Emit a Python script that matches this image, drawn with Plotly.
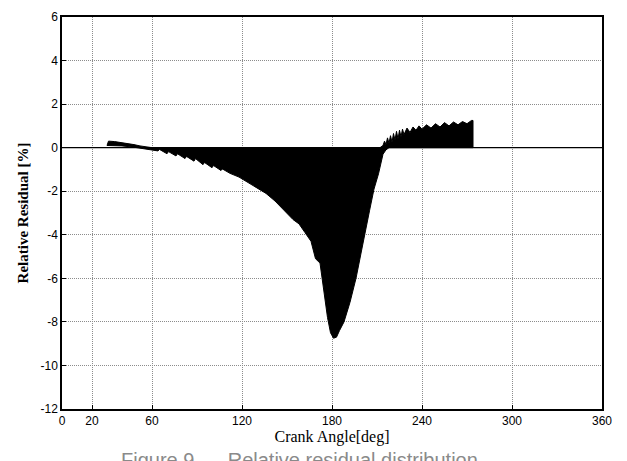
import plotly.graph_objects as go

# Upper envelope of the dense residual band (deg, %)
upper_deg = [30, 31, 35, 38, 42, 45, 48, 52, 56, 60,
             212, 214, 215, 216, 217, 218, 219, 220, 221, 222, 223, 224, 225, 226,
             227, 228, 230, 232, 234, 236, 238, 240, 243, 246, 249, 252, 255, 258,
             261, 264, 267, 270, 273, 274]
upper_val = [0.1, 0.3, 0.28, 0.25, 0.22, 0.18, 0.14, 0.08, 0.03, 0.0,
             0.0, 0.1, 0.3, 0.15, 0.45, 0.2, 0.55, 0.25, 0.65, 0.35, 0.75, 0.4, 0.8, 0.5,
             0.85, 0.6, 0.9, 0.7, 0.95, 0.8, 1.0, 0.85, 1.05, 0.9, 1.1, 0.95, 1.15, 1.0,
             1.18, 1.05, 1.2, 1.1, 1.25, 1.25]

# Lower envelope of the dense residual band (deg, %)
lower_deg = [30, 40, 48, 52, 56, 60, 64, 65, 70, 71, 76, 77, 82, 83, 88, 89, 94, 95,
             100, 101, 106, 107, 112, 118, 124, 130, 136, 142, 148, 154, 158, 162, 166,
             169, 172, 175, 177, 179, 181, 183, 185, 188, 192, 196, 199, 202, 205, 208,
             211, 214, 216, 218, 274]
lower_val = [0.1, 0.08, 0.02, 0.0, -0.08, -0.1, -0.15, -0.08, -0.28, -0.18, -0.38, -0.28,
             -0.5, -0.4, -0.62, -0.5, -0.78, -0.68, -0.92, -0.82, -1.05, -0.98, -1.18,
             -1.35, -1.6, -1.85, -2.1, -2.45, -2.85, -3.3, -3.5, -3.9, -4.3, -5.1, -5.3,
             -6.8, -7.8, -8.5, -8.75, -8.7, -8.4, -8.0, -7.1, -6.0, -5.0, -3.9, -2.9,
             -1.9, -1.2, -0.3, -0.1, 0.0, 0.0]

# Baseline (residual is zero outside the band)
zero_deg = [0, 360]
zero_val = [0, 0]

x_ticks = [0, 20, 60, 120, 180, 240, 300, 360]
x_labels = ["0", "20", "60", "120", "180", "240", "300", "360"]
y_ticks = [-12, -10, -8, -6, -4, -2, 0, 2, 4, 6]
y_labels = ["-12", "-10", "-8", "-6", "-4", "-2", "0", "2", "4", "6"]

band_x = upper_deg + lower_deg[::-1]
band_y = upper_val + lower_val[::-1]

fig = go.Figure()
fig.add_trace(go.Scatter(x=zero_deg, y=zero_val, mode="lines",
                         line=dict(color="black", width=1.2), showlegend=False))
fig.add_trace(go.Scatter(x=band_x, y=band_y, mode="lines", fill="toself",
                         fillcolor="black", line=dict(color="black", width=1),
                         showlegend=False))

axis_common = dict(
    showgrid=True, gridcolor="#8c8c8c", griddash="1px,1px", gridwidth=1,
    showline=True, linecolor="black", linewidth=1.5, mirror=True,
    ticks="inside", ticklen=4, tickcolor="black",
    tickfont=dict(family="Liberation Sans, Arial", size=12, color="black"),
    zeroline=False,
)

fig.update_layout(
    width=627, height=461,
    margin=dict(l=62, r=25, t=10, b=52),
    paper_bgcolor="white", plot_bgcolor="white",
    xaxis=dict(range=[0, 360], tickvals=x_ticks, ticktext=x_labels, **axis_common,
               title=dict(text="Crank Angle[deg]", standoff=4,
                          font=dict(family="Liberation Serif, Times New Roman", size=16,
                                    color="black"))),
    yaxis=dict(range=[-12, 6], tickvals=y_ticks, ticktext=y_labels, **axis_common,
               title=dict(text="<b>Relative Residual [%]</b>", standoff=8,
                          font=dict(family="Liberation Serif, Times New Roman", size=15,
                                    color="black"))),
    annotations=[dict(text="Figure 9.\u00a0\u00a0\u00a0\u00a0\u00a0Relative residual distribution",
                      xref="paper", yref="paper", x=0.44, y=-0.098,
                      xanchor="center", yanchor="top", showarrow=False,
                      font=dict(family="Liberation Sans, Arial", size=20, color="#8a8a8a"))],
)

fig.write_html("out.html")
